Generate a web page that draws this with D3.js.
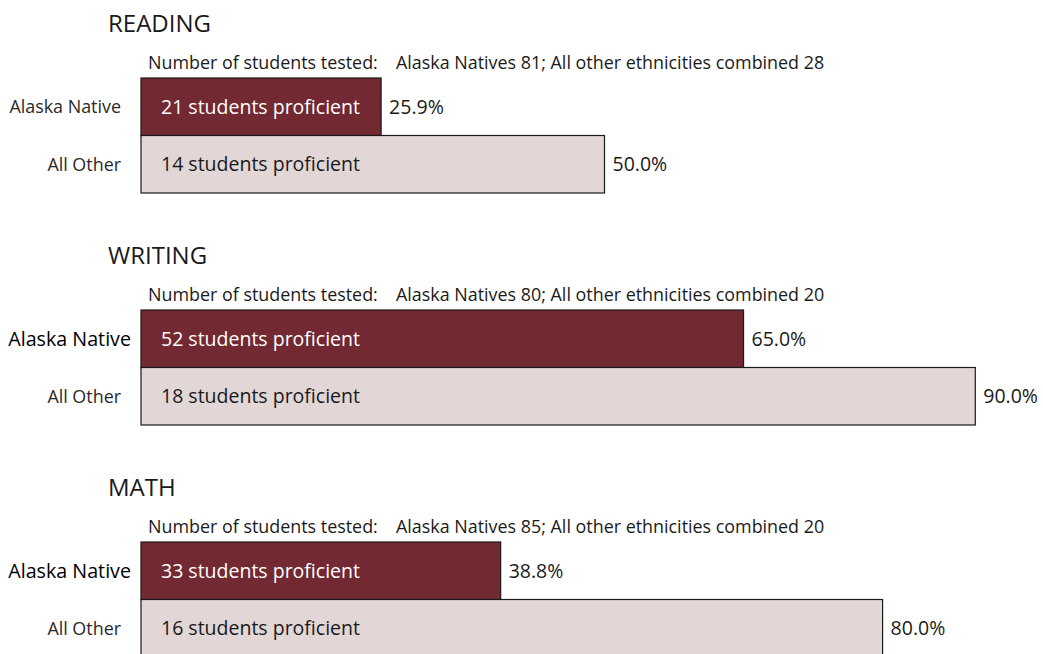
<!DOCTYPE html>
<html>
<head>
<meta charset="utf-8">
<script src="https://cdn.jsdelivr.net/npm/d3@7"></script>
<style>
  html, body { margin: 0; padding: 0; background: #fff; }
  svg { display: block; }
  text { font-family: "Open Sans", "Noto Sans", sans-serif; }
</style>
</head>
<body>
<svg id="chart" width="1043" height="654"></svg>
<script>
const subjects = ["READING", "WRITING", "MATH"];
const groups = ["Alaska Native", "All Other"];
const testedNative = [81, 80, 85];
const testedOther = [28, 20, 20];
const proficientNative = [21, 52, 33];
const proficientOther = [14, 18, 16];
const pctNative = [25.9, 65.0, 38.8];
const pctOther = [50.0, 90.0, 80.0];

const svg = d3.select("#chart");

const x = d3.scaleLinear().domain([0, 100]).range([141, 1068]);
const section = d3.scaleBand().domain(subjects).range([0, 696]);
const y = d3.scaleBand().domain(groups).range([78, 193]);

const colors = { "Alaska Native": "#722932", "All Other": "#e2d6d7" };
const textColors = { "Alaska Native": "#ffffff", "All Other": "#1a1a1a" };

subjects.forEach((subj, i) => {
  const g = svg.append("g").attr("transform", `translate(0,${section(subj)})`);
  g.append("text")
    .attr("x", 108).attr("y", 32)
    .attr("font-size", 24).attr("fill", "#1a1a1a")
    .text(subj);
  g.append("text")
    .attr("x", 148).attr("y", 69)
    .attr("font-size", 17.9).attr("fill", "#1a1a1a")
    .text("Number of students tested:");
  g.append("text")
    .attr("x", 396).attr("y", 69)
    .attr("font-size", 17.9).attr("fill", "#1a1a1a")
    .text(`Alaska Natives ${testedNative[i]}; All other ethnicities combined ${testedOther[i]}`);

  const rows = [
    { group: "Alaska Native", pct: pctNative[i], prof: proficientNative[i] },
    { group: "All Other", pct: pctOther[i], prof: proficientOther[i] }
  ];

  rows.forEach(r => {
    const yc = y(r.group) + y.bandwidth() / 2;
    g.append("rect")
      .attr("x", x(0)).attr("y", y(r.group))
      .attr("width", x(r.pct) - x(0)).attr("height", y.bandwidth())
      .attr("fill", colors[r.group])
      .attr("stroke", "#1a1a1a").attr("stroke-width", 1.2);
    g.append("text")
      .attr("x", x(0) + 20).attr("y", yc).attr("dy", "0.35em")
      .attr("font-size", 19.5).attr("fill", textColors[r.group])
      .text(`${r.prof} students proficient`);
    g.append("text")
      .attr("x", x(r.pct) + 8).attr("y", yc).attr("dy", "0.35em")
      .attr("font-size", 19.5).attr("fill", "#1a1a1a")
      .text(`${r.pct.toFixed(1)}%`);
    const big = (r.group === "Alaska Native" && i > 0);
    g.append("text")
      .attr("x", big ? 131 : 121).attr("y", yc).attr("dy", "0.35em")
      .attr("text-anchor", "end")
      .attr("font-size", big ? 19.7 : 17.9)
      .attr("fill", big ? "#000" : "#2a2a2a")
      .text(r.group);
  });
});
</script>
</body>
</html>
